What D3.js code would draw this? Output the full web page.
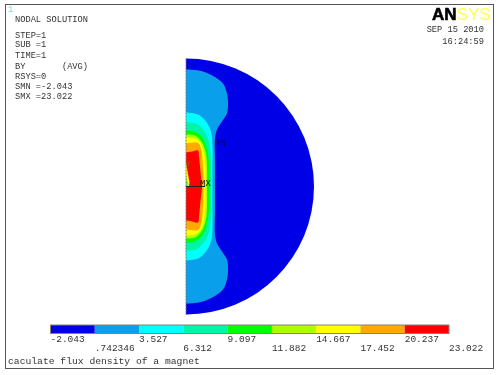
<!DOCTYPE html>
<html>
<head>
<meta charset="utf-8">
<script src="https://cdn.jsdelivr.net/npm/d3@7"></script>
<style>
  html, body { margin: 0; padding: 0; background: #fff; }
  svg { filter: blur(0.35px); }
  text { font-family: "Liberation Mono", monospace; fill: #333; }
</style>
</head>
<body>
<div id="chart"></div>
<script>
const width = 500;
const height = 375;

// legend
const levels = [-2.043, .742346, 3.527, 6.312, 9.097, 11.882, 14.667, 17.452, 20.237, 23.022];
const levelLabels = ["-2.043", ".742346", "3.527", "6.312", "9.097", "11.882", "14.667", "17.452", "20.237", "23.022"];
const bandColors = ["#0000e6", "#0a9fea", "#00ffff", "#00f5a8", "#00ff00", "#adff00", "#ffff00", "#ffaa00", "#ff0000"];

// header text
const infoLines = ["NODAL SOLUTION", "STEP=1", "SUB =1", "TIME=1", "BY       (AVG)", "RSYS=0", "SMN =-2.043", "SMX =23.022"];
const dateLines = ["SEP 15 2010", "16:24:59"];
const caption = "caculate flux density of a magnet";

// model size, half outline of each contour (x, y above the symmetry line)
const sphereRadius = 128;
const lightBlueEdge = [[0,117],[9,116.5],[17,115],[28,110],[37,103],[41,93],[42,83],[41,73],[36,65],[31,57],[29,48],[29,25],[29,0]];
const cyanEdge = [[0,74],[12,72],[20,65],[25,55],[26.5,40],[26.5,20],[26.5,0]];
const tealEdge = [[0,64],[10,63],[18,56],[23,45],[25,28],[25,14],[25,0]];
const greenEdge = [[0,56],[9,55],[17,48],[21,37],[23,22],[23,10],[23,0]];
const limeEdge = [[0,52],[9,51],[16,44],[20,33],[21,18],[21,8],[21,0]];
const yellowEdge = [[0,49],[9,48],[14,44],[18,33],[19.5,18],[19.5,8],[19.5,0]];
const orangeEdge = [[0,43],[12,43.5],[15,38],[17,20],[17.5,8],[17.5,0]];
const redEdge = [[0,34],[6,35],[12,36],[13,30],[14,20],[15,10],[16,0]];
const contours = [
  { edge: lightBlueEdge, color: bandColors[1] },
  { edge: cyanEdge, color: bandColors[2] },
  { edge: tealEdge, color: bandColors[3] },
  { edge: greenEdge, color: bandColors[4] },
  { edge: limeEdge, color: bandColors[5] },
  { edge: yellowEdge, color: bandColors[6] },
  { edge: orangeEdge, color: bandColors[7] },
  { edge: redEdge, color: bandColors[8] }
];
// small dent on the axis beside the red core
const dentOuter = [[0,24],[3.5,4],[3,0],[0,0]];
const dentInner = [[0,10],[2.5,2],[2,0],[0,0]];

const svg = d3.select("#chart").append("svg")
  .attr("width", width)
  .attr("height", height)
  .style("display", "block");

// frame
svg.append("rect")
  .attr("x", 5.5).attr("y", 4.5)
  .attr("width", 488).attr("height", 364)
  .attr("fill", "#fff")
  .attr("stroke", "#555")
  .attr("stroke-width", 1);

// scales for the model
const x = d3.scaleLinear().domain([0, sphereRadius]).range([186, 314]);
const y = d3.scaleLinear().domain([-sphereRadius, sphereRadius]).range([314.5, 58.5]);

// outer half disc
const arc = d3.arc()
  .innerRadius(0)
  .outerRadius(x(sphereRadius) - x(0))
  .startAngle(0)
  .endAngle(Math.PI);

svg.append("path")
  .attr("transform", `translate(${x(0)},${y(0)})`)
  .attr("d", arc())
  .attr("fill", bandColors[0]);

const contourLine = d3.line()
  .x(d => x(d[0]))
  .y(d => y(d[1]))
  .curve(d3.curveCatmullRom.alpha(0.5));

// mirror the half outline over the symmetry line
function mirrored(edge) {
  const lower = edge.slice(0, -1).reverse().map(d => [d[0], -d[1]]);
  return edge.concat(lower);
}

svg.selectAll("path.contour")
  .data(contours)
  .join("path")
  .attr("class", "contour")
  .attr("d", d => contourLine(mirrored(d.edge)) + "Z")
  .attr("fill", d => d.color);

const straightLine = d3.line().x(d => x(d[0])).y(d => y(d[1]));
svg.append("path").attr("d", straightLine(dentOuter) + "Z").attr("fill", bandColors[6]);
svg.append("path").attr("d", straightLine(dentInner) + "Z").attr("fill", "#7fe85a");

// symmetry axis, dashed grey on the edge
svg.append("line")
  .attr("x1", x(0)).attr("x2", x(0))
  .attr("y1", y(sphereRadius)).attr("y2", y(-sphereRadius))
  .attr("stroke", "#777")
  .attr("stroke-dasharray", "2,1");

// triad and min/max marks
svg.append("line")
  .attr("x1", x(0)).attr("x2", x(19))
  .attr("y1", y(0)).attr("y2", y(0))
  .attr("stroke", "#222");
svg.append("text").attr("x", 200).attr("y", 186).style("font-size", "9px").style("fill", "#111").text("MX");
svg.append("text").attr("x", 215).attr("y", 146).style("font-size", "9px").style("fill", "#000060").text("MN");
svg.append("text").attr("x", 186).attr("y", 166).style("font-size", "8px").style("fill", "#a06000").text("Y");

// legend
const legendX = d3.scaleLinear().domain([levels[0], levels[levels.length - 1]]).range([50.5, 449]);
const legendTop = 325;
const legendBottom = 333.5;

svg.selectAll("rect.band")
  .data(bandColors)
  .join("rect")
  .attr("class", "band")
  .attr("x", (d, i) => legendX(levels[i]))
  .attr("width", (d, i) => legendX(levels[i + 1]) - legendX(levels[i]))
  .attr("y", legendTop)
  .attr("height", legendBottom - legendTop)
  .attr("fill", d => d);

svg.append("rect")
  .attr("x", legendX(levels[0]))
  .attr("y", legendTop)
  .attr("width", legendX(levels[9]) - legendX(levels[0]))
  .attr("height", legendBottom - legendTop)
  .attr("fill", "none")
  .attr("stroke", "#8a8078")
  .attr("stroke-width", 1);

svg.selectAll("text.level")
  .data(levelLabels)
  .join("text")
  .attr("class", "level")
  .attr("x", (d, i) => legendX(levels[i]))
  .attr("y", (d, i) => i % 2 ? 351 : 342)
  .style("font-size", "9.5px")
  .text(d => d);

svg.append("text")
  .attr("x", 8).attr("y", 364)
  .style("font-size", "9.7px")
  .text(caption);

// header
const infoY = [22, 38, 47, 58, 69, 79, 89, 99];
svg.selectAll("text.info")
  .data(infoLines)
  .join("text")
  .attr("class", "info")
  .attr("x", 15)
  .attr("y", (d, i) => infoY[i])
  .style("font-size", "8.7px")
  .style("white-space", "pre")
  .attr("xml:space", "preserve")
  .text(d => d);

svg.append("text")
  .attr("x", 8).attr("y", 12)
  .style("font-size", "9px")
  .style("fill", "#7fd8d0")
  .text("1");

svg.selectAll("text.date")
  .data(dateLines)
  .join("text")
  .attr("class", "date")
  .attr("x", 484)
  .attr("y", (d, i) => 32 + i * 12)
  .attr("text-anchor", "end")
  .style("font-size", "8.7px")
  .text(d => d);

// logo
const logo = svg.append("text")
  .attr("x", 432).attr("y", 19.5)
  .style("font-family", "'Liberation Sans', sans-serif")
  .style("font-size", "17px")
  .style("font-weight", "bold");
logo.append("tspan").style("fill", "#000").style("stroke", "#000").style("stroke-width", "0.6px").text("AN");
logo.append("tspan").style("fill", "#ffff55").style("font-weight", "normal").text("SYS");
</script>
</body>
</html>
